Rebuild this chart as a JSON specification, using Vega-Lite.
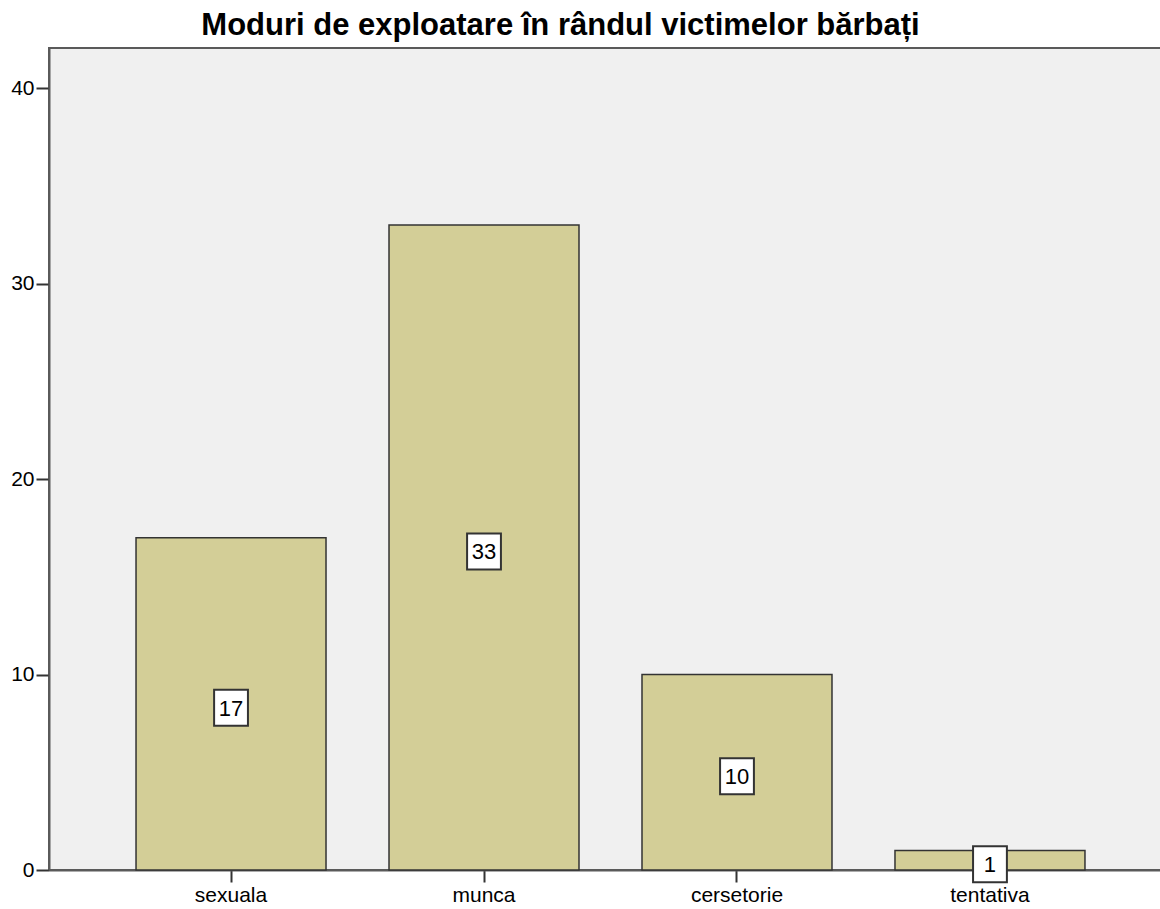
{
  "$schema": "https://vega.github.io/schema/vega-lite/v6.json",
  "autosize": "none",
  "width": 1123,
  "height": 822,
  "padding": {"left": 49, "top": 48, "right": 0, "bottom": 39},
  "background": "white",
  "title": {
    "text": "Moduri de exploatare în rândul victimelor bărbați",
    "font": "Liberation Sans",
    "fontSize": 31,
    "fontWeight": "bold",
    "color": "#000000",
    "anchor": "middle",
    "dx": -50,
    "offset": 6
  },
  "config": {
    "view": {"fill": "#F0F0F0", "stroke": "#5a5a5a", "strokeWidth": 2},
    "axis": {
      "labelFont": "Liberation Sans",
      "labelFontSize": 21,
      "labelColor": "#000000",
      "domainColor": "#5a5a5a",
      "domainWidth": 2,
      "tickColor": "#333333",
      "tickWidth": 2,
      "grid": false,
      "title": null
    }
  },
  "data": {
    "values": [
      {"mod": "sexuala", "n": 17},
      {"mod": "munca", "n": 33},
      {"mod": "cersetorie", "n": 10},
      {"mod": "tentativa", "n": 1}
    ]
  },
  "transform": [{"calculate": "datum.n / 2", "as": "mid"}],
  "encoding": {
    "x": {
      "field": "mod",
      "type": "nominal",
      "sort": null,
      "scale": {"paddingInner": 0.249, "paddingOuter": 0.344},
      "axis": {"labelAngle": 0, "tickSize": 12, "labelPadding": 2}
    }
  },
  "layer": [
    {
      "mark": {"type": "bar", "fill": "#D3CE97", "stroke": "#333333", "strokeWidth": 1.5},
      "encoding": {
        "y": {
          "field": "n",
          "type": "quantitative",
          "scale": {"domain": [0, 42.05], "nice": false, "zero": true},
          "axis": {"values": [0, 10, 20, 30, 40], "tickSize": 13, "labelPadding": 2}
        }
      }
    },
    {
      "mark": {
        "type": "point",
        "shape": "M-0.94,-1H0.94V1H-0.94Z",
        "size": 1296,
        "filled": true,
        "fill": "#FFFFFF",
        "stroke": "#333333",
        "strokeWidth": 2,
        "opacity": 1,
        "yOffset": 4
      },
      "encoding": {
        "y": {"field": "mid", "type": "quantitative"}
      }
    },
    {
      "mark": {
        "type": "text",
        "font": "Liberation Sans",
        "fontSize": 22,
        "color": "#000000",
        "baseline": "middle",
        "align": "center",
        "yOffset": 5
      },
      "encoding": {
        "y": {"field": "mid", "type": "quantitative"},
        "text": {"field": "n", "type": "quantitative"}
      }
    }
  ]
}
